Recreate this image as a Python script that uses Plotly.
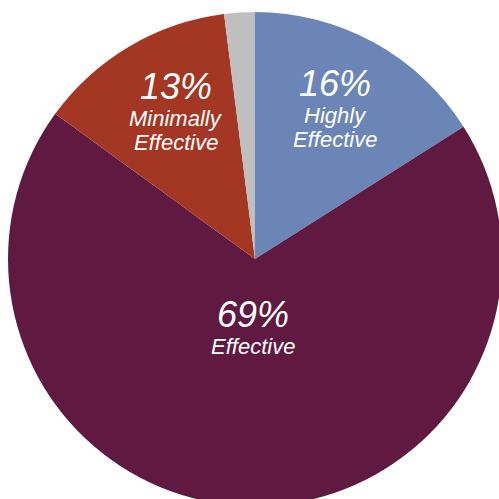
import math
import plotly.graph_objects as go

categories = ["Highly Effective", "Effective", "Minimally Effective", "Other"]
values = [16, 69, 13, 2]
pct_labels = ["16%", "69%", "13%", ""]
name_lines = [["Highly", "Effective"], ["Effective"], ["Minimally", "Effective"], []]
colors = ["#6b86b6", "#601a42", "#a43723", "#bfbfbf"]

# style: radial position of each label block (fraction of radius) and small x nudges (px)
label_radius = [0.675, 0.29, 0.675, 0.0]
label_nudge_x = [0, 0, 6, 0]

W, H = 510, 510
dom_x = [8 / W, 502 / W]
dom_y = [4 / H, 498 / H]

fig = go.Figure(go.Pie(
    labels=categories,
    values=values,
    textinfo="none",
    sort=False,
    direction="clockwise",
    rotation=0,
    marker=dict(colors=colors, line=dict(width=0)),
    domain=dict(x=dom_x, y=dom_y),
    showlegend=False,
    hoverinfo="label+percent",
))

# label placement derived from the slice angles
cx = (dom_x[0] + dom_x[1]) / 2 * W
cy = H - (dom_y[0] + dom_y[1]) / 2 * H
R = min((dom_x[1] - dom_x[0]) * W, (dom_y[1] - dom_y[0]) * H) / 2
total = sum(values)
font_fam = "Liberation Sans, Arial, sans-serif"
annotations = []
cum = 0
for v, p, lines, rf, nx in zip(values, pct_labels, name_lines, label_radius, label_nudge_x):
    mid = (cum + v / 2) / total * 2 * math.pi
    cum += v
    if not p:
        continue
    bx = cx + rf * R * math.sin(mid) + nx
    by = cy - rf * R * math.cos(mid)
    # line positions relative to first line (pixels, downward)
    pos = [0]
    for i, _ in enumerate(lines):
        pos.append(32 + 24 * i)
    mean = sum(pos) / len(pos)
    items = [(p, 36)] + [(t, 22) for t in lines]
    for (txt, size), yp in zip(items, pos):
        py = by + (yp - mean)
        annotations.append(dict(
            x=bx / W, y=1 - py / H, xref="paper", yref="paper",
            text=txt, showarrow=False, xanchor="center", yanchor="middle",
            font=dict(family=font_fam, size=size, color="white", style="italic"),
        ))

fig.update_layout(
    width=W, height=H,
    margin=dict(l=0, r=0, t=0, b=0),
    paper_bgcolor="white",
    plot_bgcolor="white",
    annotations=annotations,
)
fig.write_html("out.html", post_script="document.body.style.overflow='hidden';document.body.style.margin='0';")
